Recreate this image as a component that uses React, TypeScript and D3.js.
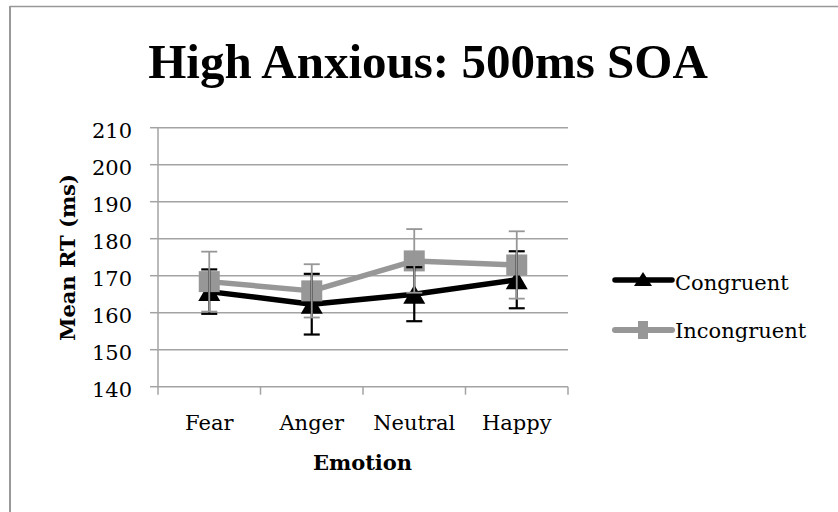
import React from "react";
import * as d3 from "d3";

const categories = ["Fear", "Anger", "Neutral", "Happy"];
const congruent = [165.7, 162.3, 165.0, 168.9];
const congruentErr = [6.0, 8.2, 7.3, 7.7];
const incongruent = [168.4, 165.9, 174.0, 172.9];
const incongruentErr = [8.1, 7.2, 8.6, 9.1];
const yTicks = [140, 150, 160, 170, 180, 190, 200, 210];
const seriesNames = ["Congruent", "Incongruent"];

const W = 838;
const H = 512;
const GRID = "#a3a3a3";
const BLACK = "#000000";
const GRAY = "#979797";
const SERIF = "'DejaVu Serif', serif";
const TITLE_FONT = "'Liberation Serif', serif";

export default function App() {
  const x = d3.scaleBand<string>().domain(categories).range([158, 568]);
  const y = d3.scaleLinear().domain([140, 210]).range([386.7, 127.7]);
  const cx = (c: string) => (x(c) as number) + x.bandwidth() / 2;

  const line = d3
    .line<number>()
    .x((_, i) => cx(categories[i]))
    .y((v) => y(v));

  const series = [
    { name: seriesNames[0], vals: congruent, err: congruentErr, color: BLACK, errW: 2.2 },
    { name: seriesNames[1], vals: incongruent, err: incongruentErr, color: GRAY, errW: 1.8 },
  ];

  const tri = (px: number, py: number, w: number, h: number) =>
    `M${px},${py - h / 2}L${px + w / 2},${py + h / 2}L${px - w / 2},${py + h / 2}Z`;

  const boundaries = [...categories.map((c) => x(c) as number), 568];
  const capHalf = 8;

  return (
    <svg
      width={W}
      height={H}
      style={{ position: "absolute", left: 0, top: 0, background: "#fff" }}
    >
      {/* chart frame */}
      <line x1={10} y1={6.5} x2={W + 2} y2={6.5} stroke="#999" strokeWidth={1.5} />
      <line x1={10} y1={6} x2={10} y2={H + 2} stroke="#999" strokeWidth={2} />

      {/* title */}
      <text
        x={428}
        y={78}
        textAnchor="middle"
        fontFamily={TITLE_FONT}
        fontWeight="bold"
        fontSize={49}
        fill="#000"
      >
        High Anxious: 500ms SOA
      </text>

      {/* gridlines */}
      {yTicks.slice(1).map((t) => (
        <line key={"g" + t} x1={158} x2={568} y1={y(t)} y2={y(t)} stroke={GRID} strokeWidth={1.5} />
      ))}
      {/* y axis */}
      <line x1={158} x2={158} y1={y(210)} y2={y(140)} stroke={GRID} strokeWidth={1.5} />
      {yTicks.map((t) => (
        <g key={"yt" + t}>
          <line x1={150} x2={158} y1={y(t)} y2={y(t)} stroke={GRID} strokeWidth={1.5} />
          <text
            x={132}
            y={y(t) + 10.5}
            textAnchor="end"
            fontFamily={SERIF}
            fontSize={21}
            fill="#000"
          >
            {t}
          </text>
        </g>
      ))}
      {/* x axis */}
      <line x1={158} x2={568} y1={y(140)} y2={y(140)} stroke={GRID} strokeWidth={1.5} />
      {boundaries.map((b, i) => (
        <line key={"xt" + i} x1={b} x2={b} y1={y(140)} y2={y(140) + 8} stroke={GRID} strokeWidth={1.5} />
      ))}
      {categories.map((c) => (
        <text
          key={"xl" + c}
          x={cx(c)}
          y={430}
          textAnchor="middle"
          fontFamily={SERIF}
          fontSize={21}
          fill="#000"
        >
          {c}
        </text>
      ))}

      {/* axis titles */}
      <text
        x={362.5}
        y={470}
        textAnchor="middle"
        fontFamily={SERIF}
        fontWeight="bold"
        fontSize={21}
        fill="#000"
      >
        Emotion
      </text>
      <text
        transform={`translate(75,257.5) rotate(-90)`}
        textAnchor="middle"
        fontFamily={SERIF}
        fontWeight="bold"
        fontSize={21}
        fill="#000"
      >
        Mean RT (ms)
      </text>

      {/* series lines and markers */}
      {series.map((s, si) => (
        <g key={"s" + si}>
          <path
            d={line(s.vals) as string}
            fill="none"
            stroke={s.color}
            strokeWidth={5.5}
            strokeLinejoin="round"
            strokeLinecap="round"
          />
          {s.vals.map((v, i) =>
            si === 0 ? (
              <path key={"m" + i} d={tri(cx(categories[i]), y(v), 22, 19)} fill={s.color} />
            ) : (
              <rect
                key={"m" + i}
                x={cx(categories[i]) - 10.5}
                y={y(v) - 10.5}
                width={21}
                height={21}
                fill={s.color}
              />
            )
          )}
        </g>
      ))}

      {/* error bars */}
      {series.map((s, si) => (
        <g key={"e" + si} stroke={s.color} strokeWidth={s.errW}>
          {s.vals.map((v, i) => {
            const px = cx(categories[i]);
            const top = y(v + s.err[i]);
            const bot = y(v - s.err[i]);
            return (
              <g key={"eb" + i}>
                <line x1={px} x2={px} y1={top} y2={bot} />
                <line x1={px - capHalf} x2={px + capHalf} y1={top} y2={top} />
                <line x1={px - capHalf} x2={px + capHalf} y1={bot} y2={bot} />
              </g>
            );
          })}
        </g>
      ))}

      {/* legend */}
      <g>
        <line x1={615} x2={672} y1={280} y2={280} stroke={BLACK} strokeWidth={5.5} strokeLinecap="round" />
        <path d={tri(643, 279, 18, 14)} fill={BLACK} />
        <text x={675} y={290} fontFamily={SERIF} fontSize={21} fill="#000">
          {seriesNames[0]}
        </text>
        <line x1={615} x2={672} y1={330} y2={330} stroke={GRAY} strokeWidth={6} strokeLinecap="round" />
        <rect x={638} y={321} width={10} height={18} fill={GRAY} />
        <text x={675} y={338} fontFamily={SERIF} fontSize={21} fill="#000">
          {seriesNames[1]}
        </text>
      </g>
    </svg>
  );
}
